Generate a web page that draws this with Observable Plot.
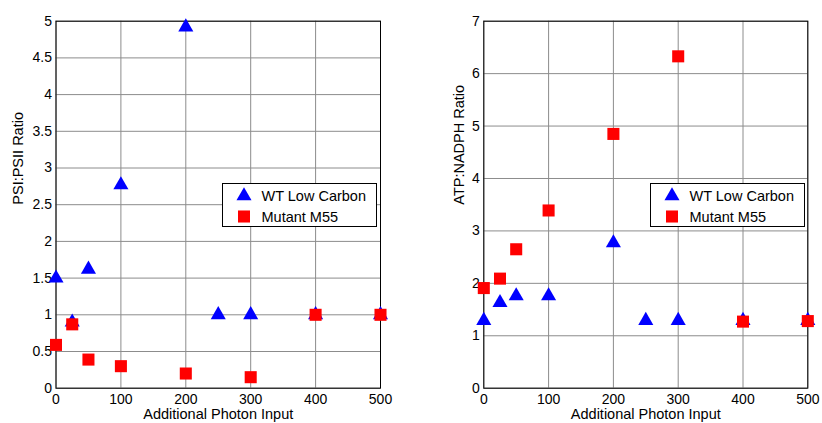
<!DOCTYPE html>
<html><head><meta charset="utf-8">
<script src="https://cdn.jsdelivr.net/npm/d3@7"></script>
<script src="https://cdn.jsdelivr.net/npm/@observablehq/plot@0.6"></script>
<style>
body{margin:0;background:#fff;font-family:"Liberation Sans",Arial,sans-serif}
#wrap{position:relative;width:822px;height:423px;overflow:hidden;background:#fff}
.panel{position:absolute;top:0}
.legend{position:absolute;background:#fff;border:1px solid #000;box-sizing:border-box}
</style></head>
<body><div id="wrap"></div>
<script>
// ---- data ----
const photonWT = [0, 25, 50, 100, 200, 250, 300, 400, 500];
const photonM55 = [0, 25, 50, 100, 200, 300, 400, 500];
const psiWT = [1.5, 0.9, 1.62, 2.77, 4.92, 1.0, 1.0, 1.0, 1.0];
const psiM55 = [0.59, 0.87, 0.39, 0.30, 0.20, 0.15, 1.0, 1.0];
const atpWT = [1.29, 1.63, 1.76, 1.76, 2.77, 1.29, 1.29, 1.29, 1.29];
const atpM55 = [1.91, 2.09, 2.65, 3.39, 4.85, 6.33, 1.27, 1.28];
const xTicks = [0, 100, 200, 300, 400, 500];
const psiTicks = [0, 0.5, 1, 1.5, 2, 2.5, 3, 3.5, 4, 4.5, 5];
const atpTicks = [0, 1, 2, 3, 4, 5, 6, 7];
const seriesNames = ["WT Low Carbon", "Mutant M55"];
const xLabel = "Additional Photon Input";

const wrap = document.getElementById("wrap");
const BLUE = "#0000ff", RED = "#ff0000";

function panel({left, width, mL, mR, yMax, yTicks, wt, m55, yLabel, yLabelDx}) {
  const wtData = photonWT.map((x, i) => ({x, y: wt[i]}));
  const mData = photonM55.map((x, i) => ({x, y: m55[i]}));
  const p = Plot.plot({
    width, height: 423,
    marginLeft: mL, marginRight: mR, marginTop: 20.7, marginBottom: 35.3,
    style: {fontFamily: "Liberation Sans, Arial, sans-serif", fontSize: "14px", overflow: "visible", background: "transparent"},
    x: {domain: [0, 500]},
    y: {domain: [0, yMax]},
    marks: [
      Plot.gridX(xTicks, {stroke: "#8c8c8c", strokeOpacity: 1}),
      Plot.gridY(yTicks, {stroke: "#8c8c8c", strokeOpacity: 1}),
      Plot.frame({stroke: "#000"}),
      Plot.axisX({ticks: xTicks, tickSize: 0, tickPadding: 6, label: null, fontSize: 14, tickFormat: d => String(d)}),
      Plot.axisY({ticks: yTicks, tickSize: 0, tickPadding: 4, label: null, fontSize: 14, tickFormat: d => String(d)}),
      Plot.dot(wtData, {x: "x", y: "y", symbol: "triangle", r: 5.6, fill: BLUE, stroke: "none"}),
      Plot.dot(mData, {x: "x", y: "y", symbol: "square", r: 6.8, fill: RED, stroke: "none"}),
      Plot.text([xLabel], {frameAnchor: "bottom", dy: 26.5, lineAnchor: "middle", fontSize: 14.5, fill: "#000"}),
      Plot.text([yLabel], {frameAnchor: "left", dx: yLabelDx, rotate: -90, lineAnchor: "middle", fontSize: 14.5, fill: "#000"})
    ]
  });
  p.classList.add("panel");
  p.style.left = left + "px";
  wrap.appendChild(p);
}

panel({left: 0, width: 411, mL: 55.5, mR: 31, yMax: 5, yTicks: psiTicks, wt: psiWT, m55: psiM55, yLabel: "PSI:PSII Ratio", yLabelDx: -38});
panel({left: 411, width: 411, mL: 72.3, mR: 14.7, yMax: 7, yTicks: atpTicks, wt: atpWT, m55: atpM55, yLabel: "ATP:NADPH Ratio", yLabelDx: -24});

function legend(left, top, w, h) {
  const d = document.createElement("div");
  d.className = "legend";
  Object.assign(d.style, {left: left + "px", top: top + "px", width: w + "px", height: h + "px"});
  const svg = d3.create("svg").attr("width", w - 2).attr("height", h - 2)
    .style("position", "absolute").style("left", "0").style("top", "0")
    .style("font-family", "Liberation Sans, Arial, sans-serif").style("font-size", "14.5px");
  const tri = d3.symbol(d3.symbolTriangle, 5.6 * 5.6 * Math.PI)();
  const sq = d3.symbol(d3.symbolSquare, 6.8 * 6.8 * Math.PI)();
  svg.append("path").attr("d", tri).attr("fill", BLUE).attr("transform", "translate(21,12)");
  svg.append("path").attr("d", sq).attr("fill", RED).attr("transform", "translate(21,32.5)");
  seriesNames.forEach((t, i) => {
    svg.append("text").attr("x", 38.5).attr("y", i === 0 ? 12 : 33).attr("dy", "0.36em").attr("fill", "#000").text(t);
  });
  d.appendChild(svg.node());
  wrap.appendChild(d);
}
legend(221.5, 183, 155, 44);
legend(650, 183, 155, 44);
</script></body></html>
